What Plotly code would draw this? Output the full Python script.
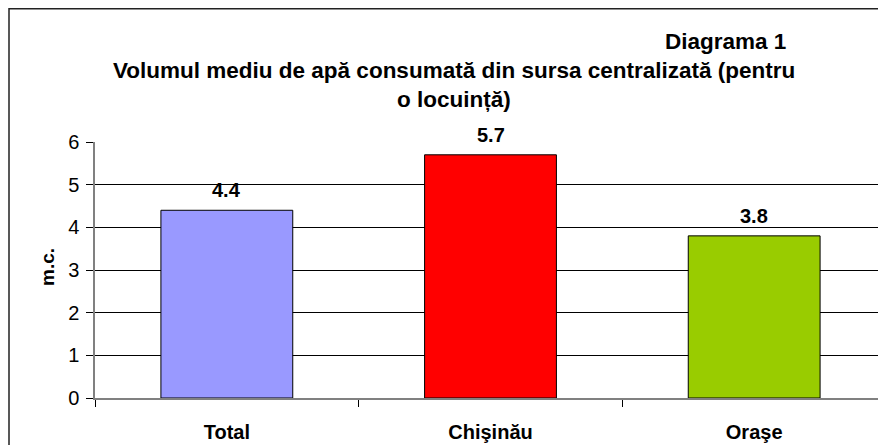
import plotly.graph_objects as go

# date
categorii = ["Total", "Chişinău", "Oraşe"]
valori = [4.4, 5.7, 3.8]
culori = ["#9999FF", "#FF0000", "#99CC00"]
etichete = ["4.4", "5.7", "3.8"]

titlu_1 = "Volumul mediu de apă consumată din sursa centralizată (pentru"
titlu_2 = "o locuință)"
diagrama = "Diagrama 1"
titlu_y = "m.c."

# pagina are o margine de 8px in jurul figurii
OFF = 8
W, H = 886 - OFF, 445 - OFF
L, R, T, B = 95 - OFF, 0, 142 - OFF, 445 - 398
PW, PH = W - L - R, H - T - B


def px(x):
    return (x - OFF - L) / PW


def py(y):
    return (H - B - (y - OFF)) / PH


FONT = "Liberation Sans, Arial, sans-serif"

fig = go.Figure(
    go.Bar(
        x=categorii,
        y=valori,
        width=0.5,
        marker=dict(color=culori, line=dict(color="black", width=1)),
        hoverinfo="x+y",
    )
)

for c, v, t in zip(categorii, valori, etichete):
    fig.add_annotation(
        x=c, y=v, text=f"<b>{t}</b>", showarrow=False, yshift=20,
        xanchor="center", yanchor="middle",
        font=dict(size=20, color="black", family=FONT),
    )


def text_fix(x, y, text, size, angle=0):
    fig.add_annotation(xref="paper", yref="paper", x=px(x), y=py(y), text=f"<b>{text}</b>",
                       xanchor="center", yanchor="middle", textangle=angle,
                       showarrow=False, font=dict(size=size, color="black", family=FONT))


text_fix(454, 70, titlu_1, 22.5)
text_fix(454, 99, titlu_2, 22.5)
text_fix(725, 41, diagrama, 22.5)
text_fix(47, 267, titlu_y, 19, angle=-90)

# chenar
fig.add_shape(type="rect", xref="paper", yref="paper",
              x0=px(9), y0=py(8.7), x1=px(900), y1=py(460),
              line=dict(color="#222222", width=1.5), fillcolor="rgba(0,0,0,0)", layer="above")

fig.update_layout(
    width=W, height=H,
    margin=dict(l=L, r=R, t=T, b=B),
    paper_bgcolor="white", plot_bgcolor="white",
    showlegend=False,
    font=dict(family=FONT, color="black"),
)
fig.update_xaxes(
    showline=True, linecolor="#808080", linewidth=1.5,
    ticks="outside", ticklen=7, tickcolor="black",
    tickson="boundaries",
    tickfont=dict(size=20),
    ticklabelstandoff=15,
    tickvals=categorii,
    ticktext=[f"<b>{c}</b>" for c in categorii],
    showgrid=False,
)
fig.update_yaxes(
    range=[0, 6], dtick=1,
    showline=True, linecolor="#808080", linewidth=1.5,
    ticks="outside", ticklen=7, tickcolor="black",
    tickfont=dict(size=20),
    ticklabelstandoff=3,
    showgrid=True, gridcolor="black", gridwidth=1,
    zeroline=False,
)

fig.write_html("out.html")
